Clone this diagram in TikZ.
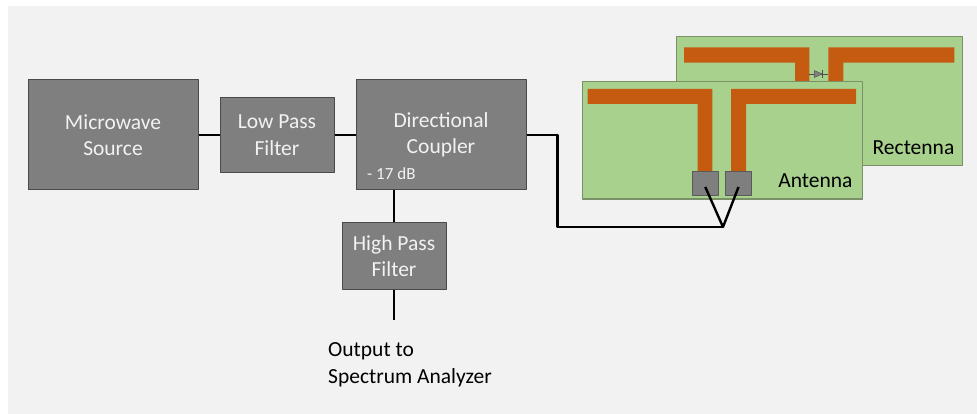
\documentclass[tikz,border=0pt]{standalone}
\usepackage{fontspec}
\setmainfont{Carlito}

\definecolor{bgfill}{HTML}{F2F2F2}
\definecolor{blockfill}{HTML}{7F7F7F}
\definecolor{blockline}{HTML}{4A4A4A}
\definecolor{boardfill}{HTML}{A9D18E}
\definecolor{boardline}{HTML}{7A9168}
\definecolor{stripfill}{HTML}{C55A11}
\definecolor{diodegray}{HTML}{808080}

\begin{document}
\begin{tikzpicture}[x=1pt, y=-1pt, line join=round,
  block/.style={draw=blockline, line width=1pt, fill=blockfill, text=bgfill,
    align=center, inner sep=0pt, font=\fontsize{21.5}{26.5}\selectfont},
  wire/.style={line width=2.4pt, black},
  board/.style={draw=boardline, line width=1.2pt, fill=boardfill, inner sep=0pt},
  strip/.style={fill=stripfill},
  pad/.style={draw=diodegray!70!black, line width=0.8pt, fill=blockfill,
    minimum width=26pt, minimum height=24pt, inner sep=0pt},
  label/.style={inner sep=0pt, font=\fontsize{21.5}{26.5}\selectfont}]

  %% ════ 背景 ════
  \fill[bgfill] (8,6) rectangle (977,414);

  %% ════ 方框 ════
  \node[block, minimum width=170pt, minimum height=110pt] (src) at (113,135) {Microwave\\Source};
  \node[block, minimum width=114pt, minimum height=75pt]  (lpf) at (277,135) {Low Pass\\Filter};
  \node[block, minimum width=170pt, minimum height=110pt] (cpl) at (441,135) {Directional\\Coupler};
  \node[block, minimum width=104pt, minimum height=66pt]  (hpf) at (394,256) {High Pass\\Filter};
  \node[anchor=base west, inner sep=0pt, text=bgfill, font=\fontsize{17}{20}\selectfont]
    (att) at (367,180) {- 17 dB};

  %% ════ 后面的板（Rectenna）════
  \node[board, minimum width=285.6pt, minimum height=129pt] (rboard) at (819.5,101.2) {};
  \fill[strip] (684,47.3) -- (809.3,47.3) -- (809.3,82) -- (795,82) -- (795,62.7) -- (684,62.7) -- cycle;
  \fill[strip] (954.3,47.3) -- (828.3,47.3) -- (828.3,82) -- (843.3,82) -- (843.3,62.7) -- (954.3,62.7) -- cycle;
  % 二极管
  \draw[diodegray!60!black, line width=0.8pt] (809.3,74) -- (828.3,74);
  \fill[diodegray, draw=diodegray!60!black, line width=0.4pt] (814.3,70.5) -- (822.3,74) -- (814.3,77.5) -- cycle;
  \draw[diodegray!60!black, line width=1pt] (822.3,70.3) -- (822.3,77.7);
  \node[label, anchor=base east] (rlabel) at (954.5,154.3) {Rectenna};

  %% ════ 前面的板（Antenna）════
  \node[board, minimum width=280.4pt, minimum height=117.3pt] (aboard) at (722.5,140.3) {};
  \fill[strip] (587.7,89) -- (712.3,89) -- (712.3,171) -- (697.7,171) -- (697.7,104) -- (587.7,104) -- cycle;
  \fill[strip] (856,89) -- (731,89) -- (731,171) -- (746,171) -- (746,104) -- (856,104) -- cycle;
  \node[pad] (padL) at (705.3,183) {};
  \node[pad] (padR) at (738.5,183) {};
  \node[label, anchor=base east] (alabel) at (852.7,187.3) {Antenna};

  %% ════ 连线 ════
  \coordinate (feed) at (723,227);
  \coordinate (out) at (394,320);
  \draw[wire] (src) -- (lpf);
  \draw[wire] (lpf) -- (cpl);
  \draw[wire] (cpl.east) -- ++(31,0) |- (feed);
  \draw[wire] ([yshift=-4pt]padL.center) -- (feed) -- ([yshift=-4pt]padR.center);
  \draw[wire] (hpf.north) -- (hpf.north |- cpl.south);
  \draw[wire] (hpf.south) -- (out);

  %% ════ 输出说明 ════
  \node[label, anchor=north west, align=left] (outtxt) at (328,342.5) {Output to\\Spectrum Analyzer};

  % 固定画布大小
  \pgfresetboundingbox
  \path[use as bounding box] (0,0) rectangle (977,414);
\end{tikzpicture}
\end{document}
